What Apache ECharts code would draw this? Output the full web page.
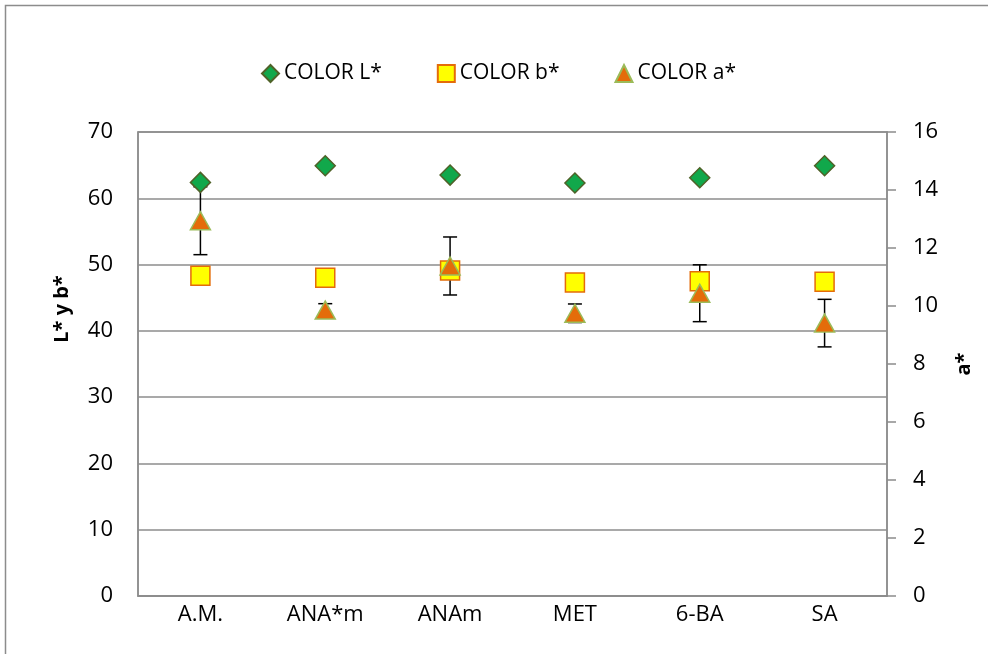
<!DOCTYPE html>
<html><head><meta charset="utf-8">
<script src="https://cdn.jsdelivr.net/npm/echarts@6/dist/echarts.min.js"></script>
<style>html,body{margin:0;padding:0;background:#fff}#c{width:988px;height:654px}</style>
</head><body><div id="c"></div>
<script>
var categories = ['A.M.', 'ANA*m', 'ANAm', 'MET', '6-BA', 'SA'];
var colorL = [62.4, 64.9, 63.5, 62.3, 63.1, 64.9];
var colorB = [48.3, 48.0, 49.1, 47.3, 47.5, 47.4];
var colorA = [12.94, 9.86, 11.38, 9.75, 10.44, 9.41];
var colorAErr = [1.17, 0.22, 1.0, 0.32, 0.98, 0.82];
var leftTicks = [0, 10, 20, 30, 40, 50, 60, 70];
var rightTicks = [0, 2, 4, 6, 8, 10, 12, 14, 16];

var FONT = 'Open Sans';
var chart = echarts.init(document.getElementById('c'));
var errData = colorA.map(function (v, i) { return [i, v - colorAErr[i], v + colorAErr[i]]; });

chart.setOption({
  animation: false,
  textStyle: { fontFamily: FONT },
  graphic: [{
    type: 'rect', shape: { x: 5.5, y: 5.5, width: 1200, height: 1000 },
    style: { fill: 'none', stroke: '#8c8c8c', lineWidth: 1.5 }, z: -10
  }],
  legend: {
    top: 58, left: 256, itemGap: 55, itemWidth: 17, itemHeight: 17,
    textStyle: { fontFamily: FONT, fontSize: 21, color: '#000' },
    data: ['COLOR L*', 'COLOR b*', 'COLOR a*']
  },
  grid: { left: 138, right: 101, top: 132, bottom: 58, show: true, borderColor: '#8c8c8c', borderWidth: 1.5 },
  xAxis: {
    type: 'category', data: categories, boundaryGap: true,
    axisLine: { lineStyle: { color: '#8c8c8c', width: 1.5 } },
    axisTick: { show: false },
    axisLabel: { fontFamily: FONT, fontSize: 22, color: '#000', margin: 8 }
  },
  yAxis: [{
    type: 'value', min: 0, max: 70, interval: 10,
    name: 'L* y b*', nameLocation: 'middle', nameGap: 66, nameRotate: 90,
    nameTextStyle: { fontFamily: FONT, fontSize: 20, fontWeight: 'bold', color: '#000', padding: [0, 0, 0, 110] },
    axisLine: { show: true, lineStyle: { color: '#8c8c8c', width: 1.5 } },
    axisTick: { show: false },
    axisLabel: { fontFamily: FONT, fontSize: 22, color: '#000', margin: 25 },
    splitLine: { lineStyle: { color: '#8c8c8c', width: 1.5 } }
  }, {
    type: 'value', min: 0, max: 16, interval: 2, position: 'right',
    name: 'a*', nameLocation: 'middle', nameGap: 67, nameRotate: 90,
    nameTextStyle: { fontFamily: FONT, fontSize: 20, fontWeight: 'bold', color: '#000' },
    axisLine: { show: true, lineStyle: { color: '#8c8c8c', width: 1.5 } },
    axisTick: { show: true, length: 9, lineStyle: { color: '#8c8c8c', width: 1.5 } },
    axisLabel: { fontFamily: FONT, fontSize: 22, color: '#000', margin: 26 },
    splitLine: { show: false }
  }],
  series: [{
    type: 'custom', name: 'err', yAxisIndex: 1, z: 1, silent: true,
    data: errData,
    renderItem: function (params, api) {
      var x = api.value(0);
      var lo = api.coord([x, api.value(1)]);
      var hi = api.coord([x, api.value(2)]);
      var hw = 7;
      var st = { stroke: '#000', lineWidth: 1.5 };
      return { type: 'group', children: [
        { type: 'line', shape: { x1: lo[0], y1: lo[1], x2: hi[0], y2: hi[1] }, style: st },
        { type: 'line', shape: { x1: lo[0] - hw, y1: lo[1], x2: lo[0] + hw, y2: lo[1] }, style: st },
        { type: 'line', shape: { x1: hi[0] - hw, y1: hi[1], x2: hi[0] + hw, y2: hi[1] }, style: st }
      ]};
    }
  }, {
    type: 'scatter', name: 'COLOR L*', yAxisIndex: 0, z: 3,
    symbol: 'diamond', symbolSize: [20, 20], data: colorL,
    itemStyle: { color: '#11a84b', borderColor: '#4f6228', borderWidth: 1.5, opacity: 1 }
  }, {
    type: 'scatter', name: 'COLOR b*', yAxisIndex: 0, z: 3,
    symbol: 'rect', symbolSize: [19, 19], data: colorB,
    itemStyle: { color: '#ffff00', borderColor: '#e46c0a', borderWidth: 1.5, opacity: 1 }
  }, {
    type: 'scatter', name: 'COLOR a*', yAxisIndex: 1, z: 4,
    symbol: 'triangle', symbolSize: [20, 18], data: colorA,
    itemStyle: { color: '#e46c0a', borderColor: '#9bbb59', borderWidth: 1.5, opacity: 1 }
  }]
});
</script></body></html>
